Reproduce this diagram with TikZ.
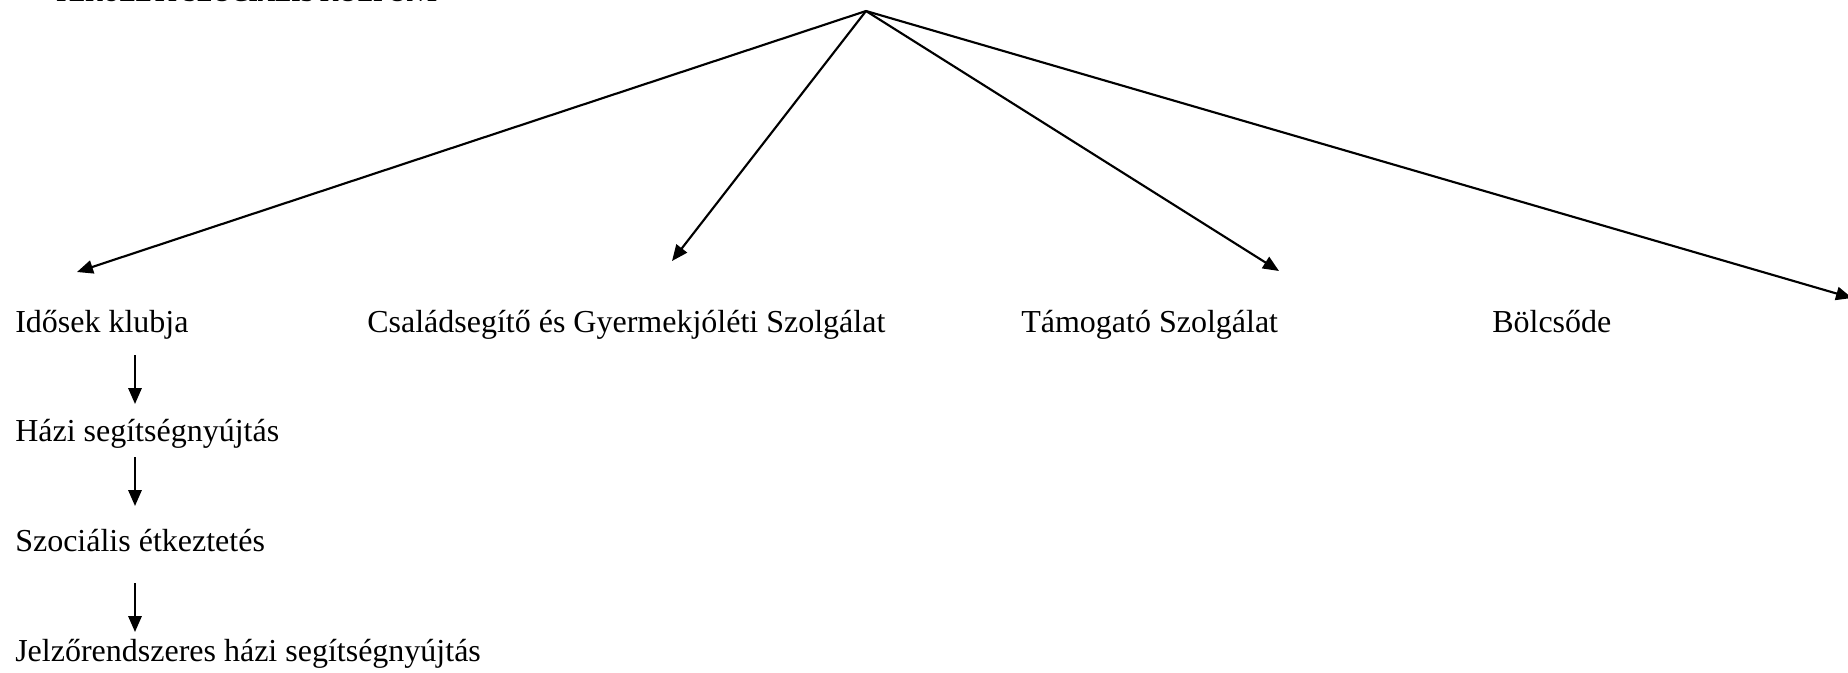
\documentclass[tikz,border=0pt]{standalone}
\usepackage{fontspec}
\setmainfont{Liberation Serif}
\usetikzlibrary{arrows.meta}
\begin{document}
\begin{tikzpicture}[x=0.75pt,y=-0.75pt,
  lbl/.style={anchor=base west,inner sep=0pt,font=\fontsize{24pt}{28pt}\selectfont},
  ttl/.style={anchor=base west,inner sep=0pt,font=\bfseries\fontsize{18pt}{22pt}\selectfont},
  conn/.style={line width=1.6pt,-{Triangle[length=12pt,width=10pt]}}]
\useasboundingbox (0,0) rectangle (1848,672);
\clip (0,0) rectangle (1848,672);
% title (cut off at the top edge, as in the reference)
\node[ttl] (title) at (53,1.5) {TERÜLETI SZOCIÁLIS KÖZPONT};
% labels
\node[lbl] (idosek) at (15,332) {Idősek klubja};
\node[lbl] (csalad) at (367,332) {Családsegítő és Gyermekjóléti Szolgálat};
\node[lbl] (tamog) at (1021,332) {Támogató Szolgálat};
\node[lbl] (bolcs) at (1492,332) {Bölcsőde};
\node[lbl] (hazi) at (15,441) {Házi segítségnyújtás};
\node[lbl] (szoc) at (15,551) {Szociális étkeztetés};
\node[lbl] (jelzo) at (15,661) {Jelzőrendszeres házi segítségnyújtás};
% connector ends
\coordinate (apex) at (866,11);
\coordinate (t1) at (77,272);
\coordinate (t2) at (672,261);
\coordinate (t3) at (1279,271);
\coordinate (t4) at (1852,298);
\draw[conn] (apex) -- (t1);
\draw[conn] (apex) -- (t2);
\draw[conn] (apex) -- (t3);
\draw[conn] (apex) -- (t4);
% vertical chain
\coordinate (v1a) at (135,355); \coordinate (v1b) at (135,404);
\coordinate (v2a) at (135,457); \coordinate (v2b) at (135,506);
\coordinate (v3a) at (135,583); \coordinate (v3b) at (135,632);
\draw[conn] (v1a) -- (v1b);
\draw[conn] (v2a) -- (v2b);
\draw[conn] (v3a) -- (v3b);
\end{tikzpicture}
\end{document}
